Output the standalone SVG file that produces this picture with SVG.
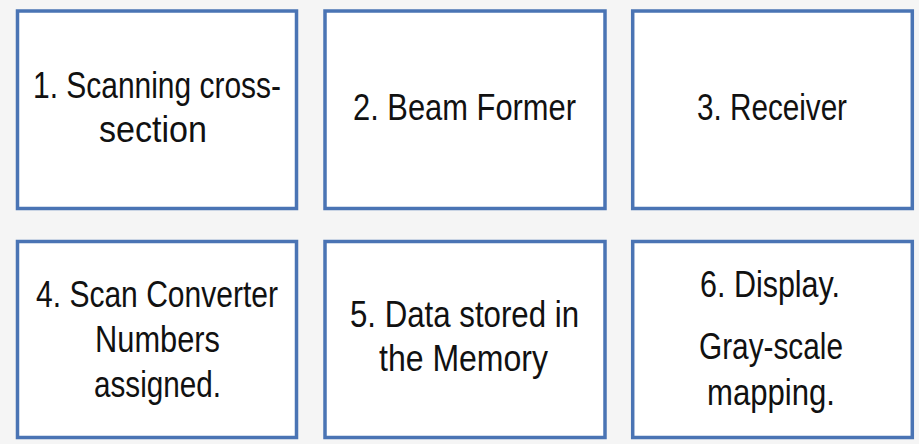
<svg xmlns="http://www.w3.org/2000/svg" width="919" height="444" viewBox="0 0 919 444">
<style>
.box{fill:#ffffff;stroke:#4a74b4;stroke-width:3.5}
.t{font-family:"Liberation Sans",Arial,sans-serif;font-size:36px;fill:#111111;text-anchor:middle}
</style>
<rect x="0" y="0" width="919" height="444" fill="#f5f5f5"/>
<g id="connectors"></g>
<g id="node1">
<rect class="box" x="17.5" y="11" width="279" height="197.5"/>
<text class="t" x="157" y="98" textLength="248" lengthAdjust="spacingAndGlyphs">1. Scanning cross-</text>
<text class="t" x="153" y="142" textLength="108" lengthAdjust="spacingAndGlyphs">section</text>
</g>
<g id="node2">
<rect class="box" x="325" y="11" width="280" height="197.5"/>
<text class="t" x="464.5" y="120" textLength="223" lengthAdjust="spacingAndGlyphs">2. Beam Former</text>
</g>
<g id="node3">
<rect class="box" x="632.7" y="11" width="279.6" height="197.5"/>
<text class="t" x="772" y="120" textLength="150" lengthAdjust="spacingAndGlyphs">3. Receiver</text>
</g>
<g id="node4">
<rect class="box" x="17.5" y="241.5" width="279" height="196"/>
<text class="t" x="157" y="307" textLength="242" lengthAdjust="spacingAndGlyphs">4. Scan Converter</text>
<text class="t" x="157.5" y="352" textLength="125" lengthAdjust="spacingAndGlyphs">Numbers</text>
<text class="t" x="157.5" y="397" textLength="127" lengthAdjust="spacingAndGlyphs">assigned.</text>
</g>
<g id="node5">
<rect class="box" x="325" y="241.5" width="280" height="196"/>
<text class="t" x="464.5" y="327" textLength="229" lengthAdjust="spacingAndGlyphs">5. Data stored in</text>
<text class="t" x="463.5" y="371" textLength="169" lengthAdjust="spacingAndGlyphs">the Memory</text>
</g>
<g id="node6">
<rect class="box" x="632.7" y="241.5" width="279.6" height="196"/>
<text class="t" x="770" y="297" textLength="140" lengthAdjust="spacingAndGlyphs">6. Display.</text>
<text class="t" x="771" y="359" textLength="144" lengthAdjust="spacingAndGlyphs">Gray-scale</text>
<text class="t" x="771" y="405" textLength="128" lengthAdjust="spacingAndGlyphs">mapping.</text>
</g>
</svg>
